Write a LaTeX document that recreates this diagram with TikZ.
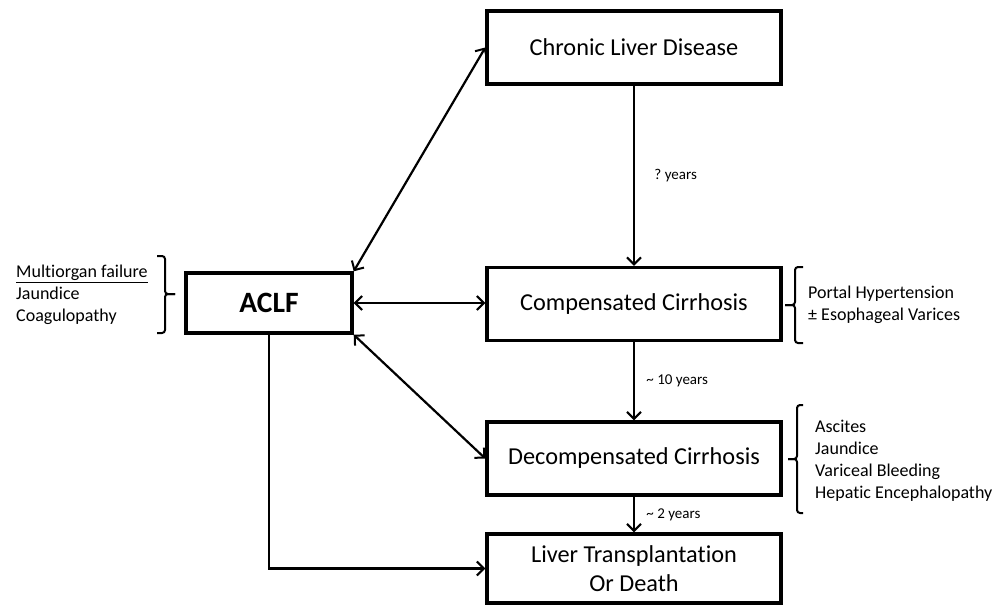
\documentclass[tikz,border=0pt]{standalone}
\usepackage{fontspec}
\setmainfont{Carlito}[Ligatures=NoCommon]
\usetikzlibrary{arrows.meta,positioning,calc}
\frenchspacing
\tikzset{
    >={Straight Barb[length=7pt,width=14pt,line width=2pt]},
    stage/.style={
        draw=black,
        line width=3.4pt,
        rectangle,
        minimum width=294pt,
        minimum height=73pt,
        inner sep=0pt,
        align=center,
        font=\fontsize{24.3}{29}\selectfont,
    },
    aclfbox/.style={
        stage,
        minimum width=166pt,
        minimum height=60pt,
        font=\fontsize{29.5}{32}\selectfont\bfseries,
    },
    link/.style={line width=2.2pt},
    years/.style={right, xshift=8pt, font=\fontsize{15}{17}\selectfont},
    signs/.style={anchor=west, align=left, inner sep=0pt, font=\fontsize{18}{22}\selectfont},
    curly/.style={line width=2pt, rounded corners=3pt},
}
\begin{document}
\begin{tikzpicture}[x=1pt,y=-1pt]
    \useasboundingbox (0,0) rectangle (1007,605);

    % stages
    \node[stage] (chronic) at (634,47.5) {Chronic Liver Disease};
    \node[stage] (comp) at (634,304) {Compensated Cirrhosis};
    \node[stage] (decomp) at (634,458.5) {Decompensated Cirrhosis};
    \node[stage, minimum height=69pt] (liver) at (634,568.5) {Liver Transplantation\\Or Death};
    \node[aclfbox] (aclf) at (269,303) {ACLF};

    % signs
    \node[signs] (organs) at (16,295) {\underline{Multiorgan failure}\\Jaundice\\Coagulopathy};
    \node[signs] (portal) at (808,305) {Portal Hypertension\\± Esophageal Varices};
    \node[signs] (decsigns) at (815,461) {Ascites\\Jaundice\\Variceal Bleeding\\Hepatic Encephalopathy};

    % arrows
    \draw[link,->] (chronic) -- node[years, xshift=8pt] {?\ years} (comp);
    \draw[link,->] (comp) -- node[years] {\textasciitilde{} 10 years} (decomp);
    \draw[link,->] (decomp) -- node[years] {\textasciitilde{} 2 years} (liver);
    \draw[link,<->] (aclf.north east) -- (chronic.west);
    \draw[link,<->] (aclf.east) -- (aclf.east -| comp.west);
    \draw[link,<->] (aclf.south east) -- (decomp.west);
    \draw[link,->] (aclf.south) |- (liver.west);

    % braces
    \draw[curly] (157,256) -| (165,294) -- (175,294);
    \draw[curly] (157,333) -| (165,294) -- (175,294);
    \draw[curly] (803,267) -| (795,305) -- (785,305);
    \draw[curly] (803,343) -| (795,305) -- (785,305);
    \draw[curly] (803,405) -| (797,459) -- (788,459);
    \draw[curly] (803,513) -| (797,459) -- (788,459);
\end{tikzpicture}
\end{document}
